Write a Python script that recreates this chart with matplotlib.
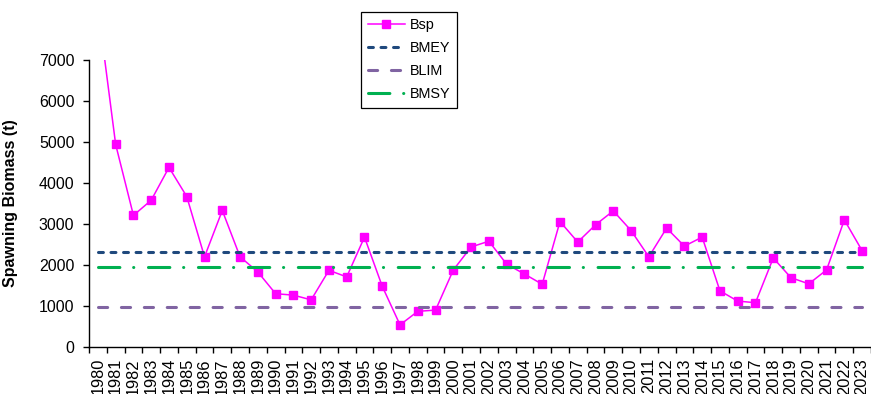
import numpy as np
import matplotlib
matplotlib.use("Agg")
import matplotlib.pyplot as plt

plt.rcParams['font.family'] = ['Liberation Sans', 'DejaVu Sans']

# Spawning biomass by year (t)
years = list(range(1980, 2024))
bsp = [8300, 4940, 3210, 3580, 4380, 3670, 2200, 3330, 2200, 1830,
       1300, 1265, 1150, 1870, 1710, 2680, 1480, 540, 870, 900,
       1880, 2440, 2580, 2020, 1780, 1530, 3060, 2560, 2980, 3320,
       2840, 2200, 2900, 2460, 2680, 1370, 1120, 1080, 2170, 1690,
       1540, 1880, 3100, 2350]

# Reference points (t)
bmey = 2320
blim = 970
bmsy = 1940

x = np.arange(len(years))

fig = plt.figure(figsize=(8.71, 3.94), dpi=100)
ax = fig.add_axes([89 / 871, 47 / 394, 782 / 871, 287 / 394])

l_bsp, = ax.plot(x, bsp, color='#FF00FF', lw=1.1, marker='s', ms=5.8,
                 mfc='#FF00FF', mec='#FF00FF', zorder=2, label='Bsp')
l_bmey, = ax.plot(x, [bmey] * len(x), color='#1F497D', lw=2.2,
                  dashes=(1.6, 2.5), dash_capstyle='round', zorder=3, label='BMEY')
l_blim, = ax.plot(x, [blim] * len(x), color='#8064A2', lw=2.2,
                  dashes=(3.0, 4.5), dash_capstyle='round', zorder=3, label='BLIM')
l_bmsy, = ax.plot(x, [bmsy] * len(x), color='#00B050', lw=2.2,
                  dashes=(7.0, 4.5, 0.05, 4.8), dash_capstyle='round', zorder=3, label='BMSY')

ax.set_xlim(-0.5, len(years) - 0.5)
ax.set_ylim(0, 7000)
ax.set_yticks(range(0, 7001, 1000))
ax.tick_params(axis='y', labelsize=11.5, length=4.5, width=1, pad=6, colors='black')

# category labels centred, tick marks between categories
ax.set_xticks(x)
ax.set_xticklabels([str(y) for y in years], rotation=90, fontsize=11.8)
ax.set_xticks(np.arange(-0.5, len(years)), minor=True)
ax.tick_params(axis='x', which='major', length=0, pad=8)
ax.tick_params(axis='x', which='minor', length=4.5, width=1, color='black')

for side in ['top', 'right']:
    ax.spines[side].set_visible(False)
for side in ['left', 'bottom']:
    ax.spines[side].set_color('black')
    ax.spines[side].set_linewidth(1)

ax.set_ylabel('Spawning Biomass (t)', fontsize=11.5, fontweight='bold')
ax.yaxis.set_label_coords(-71 / 782, 0.5)

leg = fig.legend(handles=[l_bsp, l_bmey, l_blim, l_bmsy], loc='upper left',
                 bbox_to_anchor=(361 / 871, 1 - 12 / 394), borderaxespad=0,
                 fontsize=10.4, handlelength=2.6, handletextpad=0.3,
                 labelspacing=0.62, borderpad=0.45, fancybox=False,
                 framealpha=1, edgecolor='black')
leg.get_frame().set_linewidth(0.9)

fig.savefig('out.png', dpi=100)
